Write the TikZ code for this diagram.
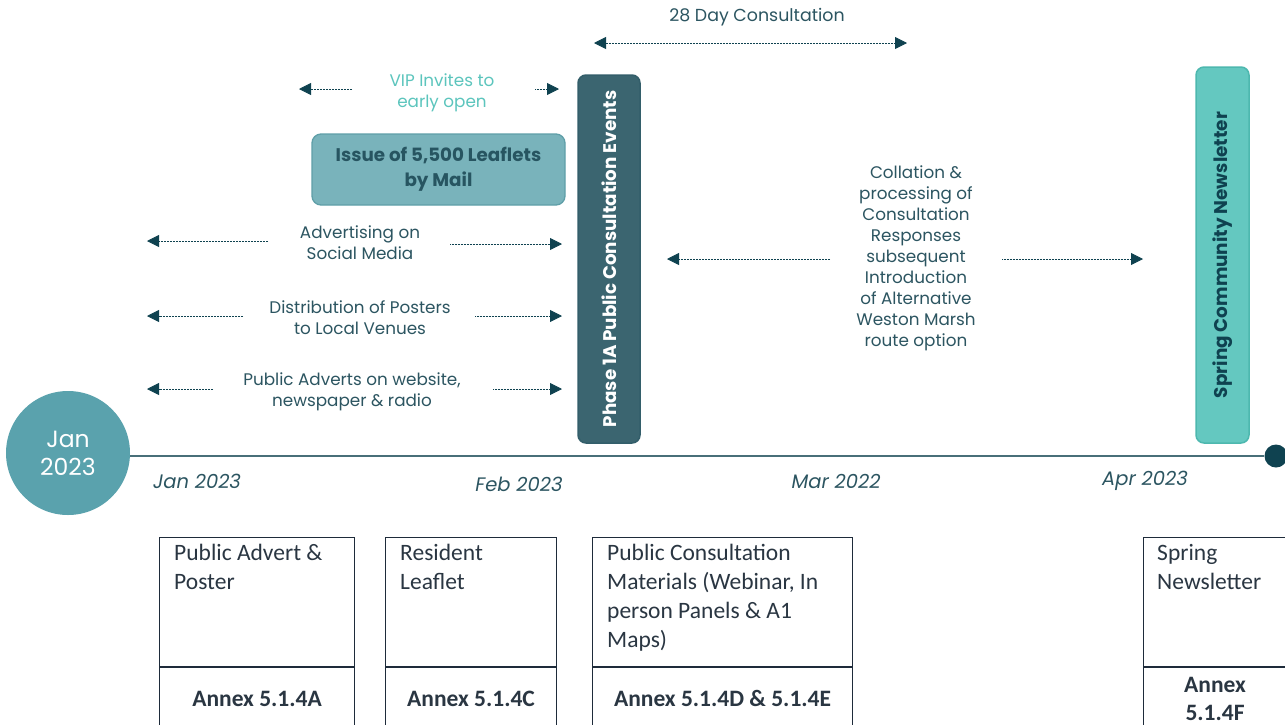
\documentclass[tikz,border=0pt]{standalone}
\usepackage{fontspec}
\setmainfont{Poppins}
\newfontfamily\calib{Carlito}
\usetikzlibrary{arrows.meta}
\definecolor{darkteal}{HTML}{0F4250}
\definecolor{txt}{HTML}{2C5561}
\definecolor{phasec}{HTML}{3B6570}
\definecolor{springc}{HTML}{64C8C0}
\definecolor{springb}{HTML}{4DB8AF}
\definecolor{leafc}{HTML}{79B3BB}
\definecolor{leafb}{HTML}{5F9FA8}
\definecolor{circc}{HTML}{5AA2AD}
\definecolor{vipc}{HTML}{5CC5BD}
\definecolor{tblc}{HTML}{1E2B3A}
\definecolor{tbltxt}{HTML}{2A3642}
\definecolor{linec}{HTML}{486F79}
\tikzset{
  lbl/.style={text=txt, align=center, inner sep=0pt, font=\fontsize{16.8}{21}\selectfont},
  darr/.style={draw=darkteal, line width=0.8pt, dash pattern=on 0.6pt off 0.9pt,
    -{Triangle[length=12pt,width=12pt]}},
  ddarr/.style={draw=darkteal, line width=0.8pt, dash pattern=on 0.6pt off 0.9pt,
    {Triangle[length=12pt,width=12pt]}-{Triangle[length=12pt,width=12pt]}},
  month/.style={text=txt, inner sep=0pt, font=\fontsize{19.5}{22}\selectfont\itshape},
  cell/.style={draw=tblc, line width=1.1pt, anchor=north west, inner sep=0pt},
  celltxt/.style={text=tbltxt, anchor=north west, align=left, inner sep=0pt,
    font=\calib\fontsize{23.5}{29}\selectfont},
  annex/.style={draw=tblc, line width=1.1pt, anchor=north west, inner sep=0pt, align=center,
    text=tbltxt, font=\calib\bfseries\fontsize{23.5}{28}\selectfont},
}
\begin{document}
\begin{tikzpicture}[x=1pt,y=-1pt]
\useasboundingbox[fill=white] (0,0) rectangle (1285,724);

% timeline
\node[circle, fill=circc, minimum size=124pt, inner sep=0pt, text=white, align=center,
  font=\fontsize{23.5}{28}\selectfont] (jan) at (68,453) {Jan\\2023};
\node[circle, fill=darkteal, minimum size=23pt, inner sep=0pt] (enddot) at (1276,456) {};
\draw[linec, line width=1.6pt] (jan.east |- enddot) -- (enddot);

\node[month] (m1) at (197,481) {Jan 2023};
\node[month] (m2) at (519,484) {Feb 2023};
\node[month] (m3) at (836,481) {Mar 2022};
\node[month] (m4) at (1145,481) {Apr 2023};

% vertical bars
\node[rounded corners=8pt, fill=phasec, draw=darkteal!85, line width=1.5pt, rotate=90,
  minimum width=368pt, minimum height=62pt, inner sep=0pt, text=white,
  font=\fontsize{18.3}{20}\selectfont\bfseries] (phase) at (609,259) {Phase 1A Public Consultation Events};
\node[rounded corners=8pt, fill=springc, draw=springb, line width=1.5pt, rotate=90,
  minimum width=376pt, minimum height=53pt, inner sep=0pt, text=darkteal,
  font=\fontsize{18.4}{20}\selectfont\bfseries] (spring) at (1222.5,255) {Spring Community Newsletter};

% leaflets
\node[rounded corners=9pt, fill=leafc, draw=leafb, line width=1.3pt, minimum width=253pt,
  minimum height=71pt, inner sep=0pt, align=center, text=darkteal!90,
  font=\fontsize{18.3}{25}\selectfont\bfseries] (leaf) at (438.5,169.5) {Issue of 5,500 Leaflets\\by Mail};

% 28 day
\node[lbl, font=\fontsize{17.4}{21}\selectfont] (c28) at (757,17.5) {28 Day Consultation};
\coordinate (c28l) at (594,43);
\coordinate (c28r) at (907,43);
\draw[ddarr] (c28l) -- (c28r);

% VIP
\node[lbl, text=vipc] (vip) at (442,93) {VIP Invites to\\early open};
\coordinate (vipla) at (352,89); \coordinate (viplb) at (299,89);
\coordinate (vipra) at (535,89); \coordinate (viprb) at (559,89);
\draw[darr] (vipla) -- (viplb);
\draw[darr] (vipra) -- (viprb);

% advertising
\node[lbl] (adv) at (360,242.5) {Advertising on\\Social Media};
\coordinate (advla) at (268,241); \coordinate (advlb) at (147,241);
\coordinate (advra) at (450,244); \coordinate (advrb) at (562,244);
\draw[darr] (advla) -- (advlb);
\draw[darr] (advra) -- (advrb);

% distribution
\node[lbl] (dist) at (360,317.5) {Distribution of Posters\\to Local Venues};
\coordinate (distla) at (243,316); \coordinate (distlb) at (147,316);
\coordinate (distra) at (475,316); \coordinate (distrb) at (562,316);
\draw[darr] (distla) -- (distlb);
\draw[darr] (distra) -- (distrb);

% public adverts
\node[lbl] (pub) at (352,391.5) {Public Adverts on website,\\newspaper \& radio};
\coordinate (publa) at (213,389); \coordinate (publb) at (147,389);
\coordinate (pubra) at (493,389); \coordinate (pubrb) at (562,389);
\draw[darr] (publa) -- (publb);
\draw[darr] (pubra) -- (pubrb);

% collation
\node[lbl] (coll) at (916,258) {Collation \&\\processing of\\Consultation\\Responses\\subsequent\\Introduction\\of Alternative\\Weston Marsh\\route option};
\coordinate (colla) at (830,259); \coordinate (collb) at (667,259);
\coordinate (colra) at (1002,259); \coordinate (colrb) at (1143,259);
\draw[darr] (colla) -- (collb);
\draw[darr] (colra) -- (colrb);

% tables
\node[cell, minimum width=195pt, minimum height=129pt] (t1) at (159,537) {};
\node[celltxt] (t1t) at ([xshift=15pt,yshift=-7pt]t1.north west) {Public Advert \&\\Poster};
\node[annex, minimum width=195pt, minimum height=62pt] (a1) at (t1.south west) {Annex 5.1.4A};

\node[cell, minimum width=171pt, minimum height=129pt] (t2) at (385,537) {};
\node[celltxt] (t2t) at ([xshift=15pt,yshift=-7pt]t2.north west) {Resident\\Leaflet};
\node[annex, minimum width=171pt, minimum height=62pt] (a2) at (t2.south west) {Annex 5.1.4C};

\node[cell, minimum width=260pt, minimum height=129pt] (t3) at (592,537) {};
\node[celltxt] (t3t) at ([xshift=15pt,yshift=-7pt]t3.north west) {Public Consultation\\Materials (Webinar, In\\person Panels \& A1\\Maps)};
\node[annex, minimum width=260pt, minimum height=62pt] (a3) at (t3.south west) {Annex 5.1.4D \& 5.1.4E};

\node[cell, minimum width=143pt, minimum height=129pt] (t4) at (1143,537) {};
\node[celltxt] (t4t) at ([xshift=14pt,yshift=-7pt]t4.north west) {Spring\\Newsletter};
\node[annex, minimum width=143pt, minimum height=62pt] (a4) at (t4.south west) {Annex\\5.1.4F};
\end{tikzpicture}
\end{document}
